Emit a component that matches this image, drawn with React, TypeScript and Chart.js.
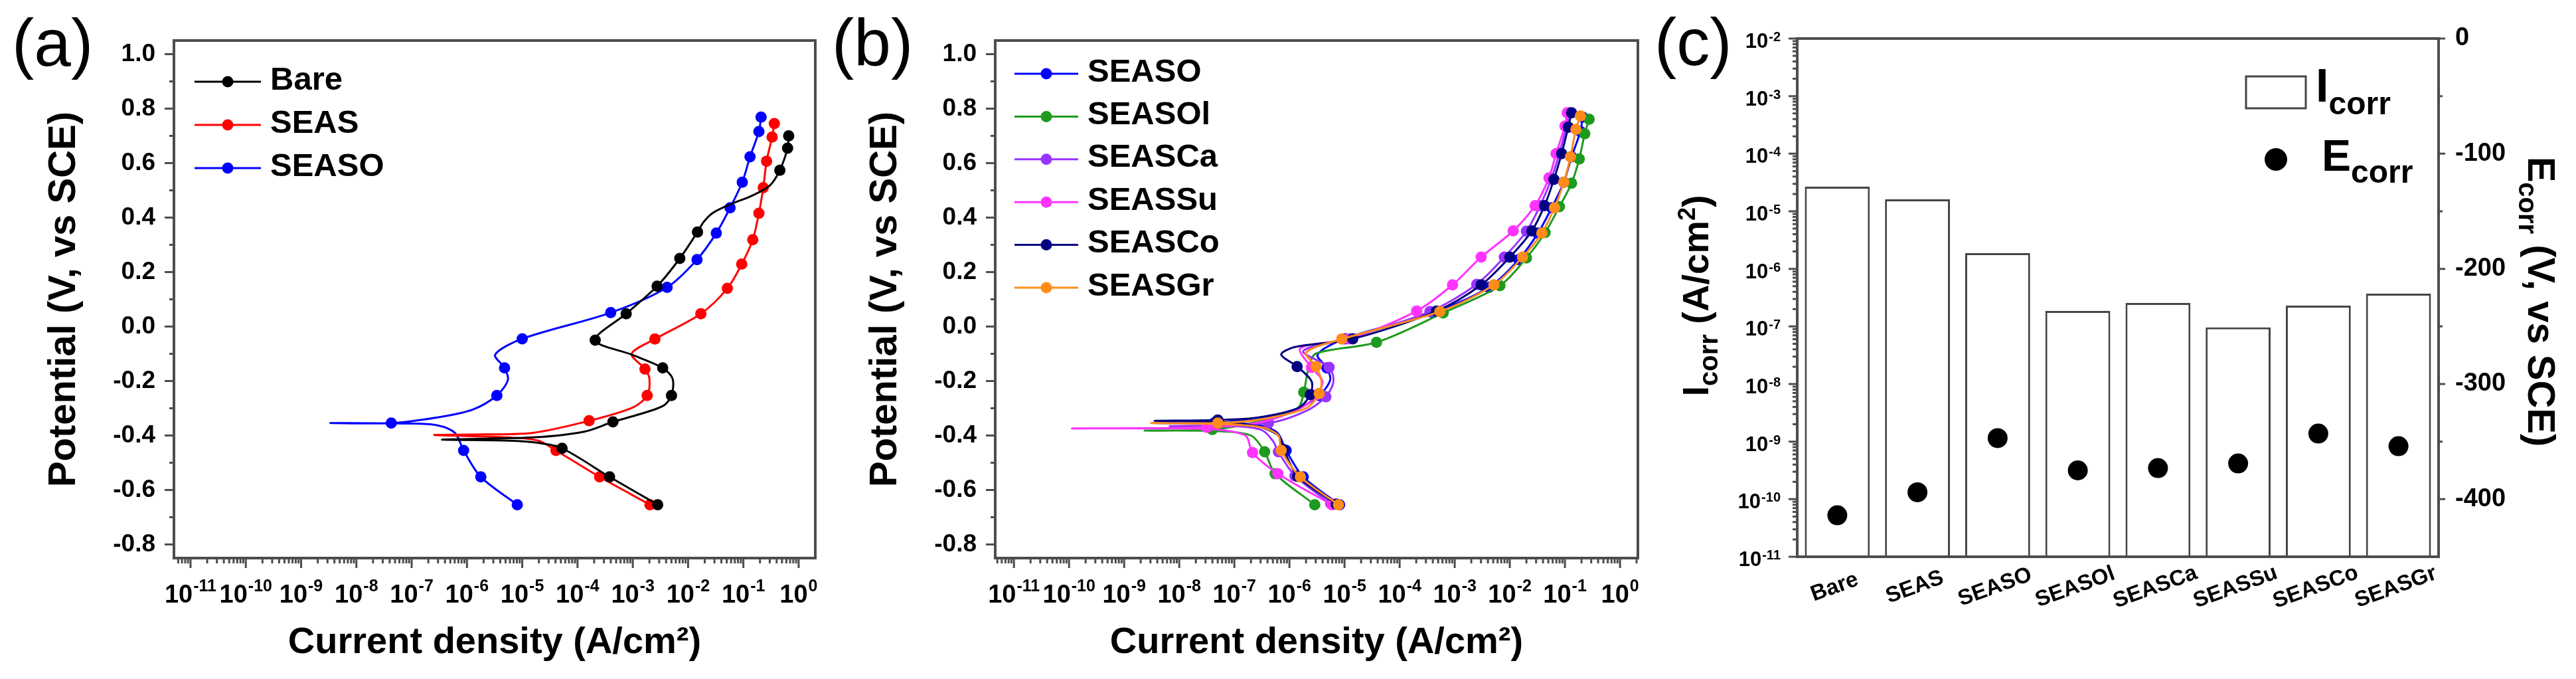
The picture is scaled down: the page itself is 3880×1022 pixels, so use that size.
import React, { useEffect, useRef } from 'react';
import { Chart, registerables } from 'chart.js';

Chart.register(...registerables);

const FONT = "'Liberation Sans', Arial, Helvetica, sans-serif";
const AXIS = '#4d4d4d';

// ---------------- Panel (a) data: current density (A/cm2) vs potential (V) ----------------
const bareI = [0.661, 0.631, 0.457, 0.302, 0.145, 0.0525, 0.0275, 0.0191, 0.0148, 0.00708, 0.00275, 7.59e-4, 2.09e-4, 9.55e-4, 3.47e-3, 5.25e-3, 5.01e-3, 3.63e-3, 1.32e-3, 4.37e-4, 1.32e-4, 1.58e-5, 3.55e-7, 5.5e-6, 1.95e-5, 5.25e-5, 3.8e-4, 2.82e-3];
const bareE = [0.700, 0.655, 0.574, 0.518, 0.481, 0.445, 0.416, 0.384, 0.347, 0.250, 0.148, 0.047, -0.050, -0.103, -0.152, -0.192, -0.253, -0.290, -0.322, -0.350, -0.386, -0.407, -0.415, -0.419, -0.427, -0.447, -0.552, -0.654];
const bareM = [1, 1, 1, 0, 0, 0, 0, 0, 1, 1, 1, 1, 1, 0, 1, 0, 1, 0, 0, 1, 0, 0, 0, 0, 0, 1, 1, 1];

const seasI = [0.363, 0.331, 0.263, 0.229, 0.191, 0.148, 0.0933, 0.0513, 0.0170, 2.51e-3, 9.55e-4, 1.66e-3, 2.0e-3, 1.82e-3, 1.0e-3, 1.62e-4, 1.58e-5, 1.9e-6, 2.57e-7, 5.5e-6, 1.95e-5, 4.07e-5, 2.51e-4, 2.04e-3];
const seasE = [0.745, 0.696, 0.607, 0.510, 0.416, 0.319, 0.229, 0.140, 0.047, -0.046, -0.100, -0.156, -0.192, -0.253, -0.297, -0.346, -0.390, -0.396, -0.398, -0.407, -0.419, -0.455, -0.552, -0.654];
const seasM = [1, 1, 1, 1, 1, 1, 1, 1, 1, 1, 0, 1, 0, 1, 0, 1, 0, 0, 0, 0, 0, 1, 1, 1];

const seasoI = [0.209, 0.191, 0.132, 0.0955, 0.0575, 0.0324, 0.0145, 4.17e-3, 3.98e-4, 1.0e-5, 3.24e-6, 4.79e-6, 5.5e-6, 3.47e-6, 1.26e-6, 2.82e-7, 4.27e-8, 3.39e-9, 7.94e-8, 2.82e-7, 6.03e-7, 8.71e-7, 1.78e-6, 8.13e-6];
const seasoE = [0.769, 0.716, 0.623, 0.530, 0.436, 0.343, 0.246, 0.144, 0.051, -0.045, -0.103, -0.152, -0.196, -0.253, -0.305, -0.334, -0.354, -0.354, -0.356, -0.362, -0.390, -0.455, -0.552, -0.654];
const seasoM = [1, 1, 1, 1, 1, 1, 1, 1, 1, 1, 0, 1, 0, 1, 0, 0, 1, 0, 0, 0, 0, 1, 1, 1];

// ---------------- Panel (b) data ----------------
const seasolI = [0.275, 0.229, 0.182, 0.132, 0.0794, 0.0437, 0.02, 6.61e-3, 6.17e-4, 3.8e-5, 3.02e-6, 2.24e-6, 1.82e-6, 1.41e-6, 2.51e-7, 3.98e-8, 2.34e-9, 5.01e-8, 2.0e-7, 3.55e-7, 5.5e-7, 2.88e-6];
const seasolE = [0.761, 0.708, 0.615, 0.526, 0.440, 0.345, 0.252, 0.150, 0.050, -0.058, -0.099, -0.150, -0.241, -0.300, -0.350, -0.378, -0.382, -0.384, -0.400, -0.460, -0.540, -0.654];
const seasolM = [1, 1, 1, 1, 1, 1, 1, 1, 1, 1, 0, 0, 1, 0, 0, 1, 0, 0, 0, 1, 1, 1];

const seascaI = [0.12, 0.107, 0.0794, 0.0562, 0.0355, 0.02, 7.94e-3, 2.51e-3, 3.55e-4, 1.12e-5, 1.78e-6, 5.25e-6, 6.31e-6, 4.57e-6, 2.0e-6, 4.17e-7, 6.76e-9, 1.0e-7, 3.16e-7, 5.01e-7, 6.31e-7, 1.26e-6, 5.62e-6];
const seascaE = [0.785, 0.735, 0.637, 0.540, 0.444, 0.350, 0.255, 0.155, 0.055, -0.045, -0.090, -0.150, -0.200, -0.258, -0.310, -0.354, -0.366, -0.366, -0.380, -0.420, -0.460, -0.548, -0.650];
const seascaM = [1, 1, 1, 1, 1, 1, 1, 1, 1, 1, 0, 1, 0, 1, 0, 1, 0, 0, 0, 0, 1, 1, 1];

const seassuI = [0.11, 0.1, 0.0692, 0.0513, 0.0288, 0.0115, 3.02e-3, 9.12e-4, 2.04e-4, 1.26e-5, 1.58e-6, 2.51e-6, 3.98e-6, 3.16e-6, 1.58e-6, 3.16e-7, 3.16e-8, 1.12e-10, 3.16e-8, 1.58e-7, 2.14e-7, 6.17e-7, 5.89e-6];
const seassuE = [0.785, 0.736, 0.635, 0.546, 0.444, 0.351, 0.255, 0.153, 0.057, -0.045, -0.080, -0.150, -0.200, -0.250, -0.300, -0.350, -0.370, -0.374, -0.376, -0.400, -0.463, -0.540, -0.654];
const seassuM = [1, 1, 1, 1, 1, 1, 1, 1, 1, 1, 0, 1, 0, 1, 0, 0, 1, 0, 0, 0, 1, 1, 1];

const seascoI = [0.132, 0.115, 0.0871, 0.0631, 0.0427, 0.0251, 0.0100, 3.02e-3, 4.68e-4, 1.41e-5, 1.26e-6, 7.08e-7, 1.38e-6, 2.51e-6, 2.4e-6, 1.41e-6, 2.51e-7, 5.01e-8, 3.55e-9, 5.01e-8, 2.51e-7, 6.31e-7, 7.94e-7, 1.41e-6, 7.08e-6];
const seascoE = [0.785, 0.732, 0.635, 0.540, 0.444, 0.351, 0.255, 0.153, 0.057, -0.045, -0.075, -0.103, -0.147, -0.200, -0.250, -0.300, -0.335, -0.343, -0.346, -0.350, -0.365, -0.400, -0.452, -0.550, -0.652];
const seascoM = [1, 1, 1, 1, 1, 1, 1, 1, 1, 1, 0, 0, 1, 0, 1, 0, 0, 1, 0, 0, 0, 0, 1, 1, 1];

const seasgrI = [0.191, 0.158, 0.126, 0.0955, 0.0646, 0.038, 0.017, 5.13e-3, 5.37e-4, 8.91e-6, 2.0e-6, 3.02e-6, 3.8e-6, 3.47e-6, 2.0e-6, 3.16e-7, 5.01e-8, 3.09e-9, 6.31e-8, 3.16e-7, 6.31e-7, 7.08e-7, 1.58e-6, 7.76e-6];
const seasgrE = [0.773, 0.724, 0.623, 0.530, 0.436, 0.343, 0.255, 0.153, 0.055, -0.046, -0.095, -0.147, -0.200, -0.246, -0.300, -0.340, -0.354, -0.354, -0.358, -0.370, -0.400, -0.455, -0.552, -0.654];
const seasgrM = [1, 1, 1, 1, 1, 1, 1, 1, 1, 1, 0, 1, 0, 1, 0, 0, 1, 0, 0, 0, 0, 1, 1, 1];

// ---------------- Panel (c) data ----------------
const categories = ['Bare', 'SEAS', 'SEASO', 'SEASOl', 'SEASCa', 'SEASSu', 'SEASCo', 'SEASGr'];
const icorr = [2.67e-5, 1.61e-5, 1.87e-6, 1.86e-7, 2.56e-7, 9.6e-8, 2.3e-7, 3.7e-7];
const ecorr = [-414, -394, -347, -375, -373, -369, -343, -354];

// ---------------- Tick labels ----------------
const currentDecades = [-11, -10, -9, -8, -7, -6, -5, -4, -3, -2, -1, 0];
const potentialMinor = [-0.7, -0.5, -0.3, -0.1, 0.1, 0.3, 0.5, 0.7, 0.9];
const potentialMajor = [-0.8, -0.6, -0.4, -0.2, 0.0, 0.2, 0.4, 0.6, 0.8, 1.0];
const icorrDecades = [-11, -10, -9, -8, -7, -6, -5, -4, -3, -2];
const ecorrMajor = [0, -100, -200, -300, -400];
const ecorrMinor = [-50, -150, -250, -350];

type Series = { name: string; color: string; I: number[]; E: number[]; M: number[] };

const panelA: Series[] = [
  { name: 'Bare', color: '#000000', I: bareI, E: bareE, M: bareM },
  { name: 'SEAS', color: '#ff0000', I: seasI, E: seasE, M: seasM },
  { name: 'SEASO', color: '#0000ff', I: seasoI, E: seasoE, M: seasoM },
];

const panelB: Series[] = [
  { name: 'SEASO', color: '#0000ff', I: seasoI, E: seasoE, M: seasoM },
  { name: 'SEASOl', color: '#1e9a1e', I: seasolI, E: seasolE, M: seasolM },
  { name: 'SEASCa', color: '#9933ff', I: seascaI, E: seascaE, M: seascaM },
  { name: 'SEASSu', color: '#ff33ff', I: seassuI, E: seassuE, M: seassuM },
  { name: 'SEASCo', color: '#000080', I: seascoI, E: seascoE, M: seascoM },
  { name: 'SEASGr', color: '#ff8c1a', I: seasgrI, E: seasgrE, M: seasgrM },
];

function pow10Label(ctx: CanvasRenderingContext2D, x: number, y: number, exp: number, baseSize: number, expSize: number, raise: number, align: 'center' | 'right') {
  const expText = exp < 0 ? '-' + Math.abs(exp) : String(exp);
  ctx.font = `bold ${baseSize}px ${FONT}`;
  const w1 = ctx.measureText('10').width;
  ctx.font = `bold ${expSize}px ${FONT}`;
  const w2 = ctx.measureText(expText).width;
  const gap = 1;
  const total = w1 + gap + w2;
  const x0 = align === 'center' ? x - total / 2 : x - total;
  ctx.textAlign = 'left';
  ctx.textBaseline = 'alphabetic';
  ctx.font = `bold ${baseSize}px ${FONT}`;
  ctx.fillText('10', x0, y);
  ctx.font = `bold ${expSize}px ${FONT}`;
  ctx.fillText(expText, x0 + w1 + gap, y - raise);
}

type Run = { t: string; size: number; dy?: number; weight?: string };
function drawRuns(ctx: CanvasRenderingContext2D, runs: Run[], x: number, y: number, rot: number, align: 'center' | 'left') {
  let total = 0;
  const widths = runs.map((r) => {
    ctx.font = `${r.weight ?? 'bold'} ${r.size}px ${FONT}`;
    const w = ctx.measureText(r.t).width;
    total += w;
    return w;
  });
  ctx.save();
  ctx.translate(x, y);
  ctx.rotate(rot);
  ctx.textAlign = 'left';
  ctx.textBaseline = 'alphabetic';
  let cx = align === 'center' ? -total / 2 : 0;
  runs.forEach((r, i) => {
    ctx.font = `${r.weight ?? 'bold'} ${r.size}px ${FONT}`;
    ctx.fillText(r.t, cx, r.dy ?? 0);
    cx += widths[i];
  });
  ctx.restore();
}

function curveDecor(label: string, labelX: number, series: Series[], legendTop: number, legendStep: number, lineX0: number, lineX1: number, textX: number) {
  return {
    id: 'curveDecor',
    afterDraw(chart: any) {
      const { ctx, chartArea: a, scales } = chart;
      const xs = scales.x;
      const ys = scales.y;
      ctx.save();
      ctx.strokeStyle = AXIS;
      ctx.lineWidth = 3;
      ctx.beginPath();
      currentDecades.forEach((e) => {
        const x = xs.getPixelForValue(Math.pow(10, e));
        ctx.moveTo(x, a.bottom);
        ctx.lineTo(x, a.bottom + 15);
      });
      for (let e = -12; e <= 0; e++) {
        for (let k = 2; k <= 9; k++) {
          const v = k * Math.pow(10, e);
          if (v <= xs.min || v >= xs.max) continue;
          const x = xs.getPixelForValue(v);
          ctx.moveTo(x, a.bottom);
          ctx.lineTo(x, a.bottom + 8);
        }
      }
      potentialMajor.forEach((v) => {
        const y = ys.getPixelForValue(v);
        ctx.moveTo(a.left - 14, y);
        ctx.lineTo(a.left, y);
      });
      potentialMinor.forEach((v) => {
        const y = ys.getPixelForValue(v);
        ctx.moveTo(a.left - 7, y);
        ctx.lineTo(a.left, y);
      });
      ctx.stroke();
      ctx.lineWidth = 4;
      ctx.strokeRect(a.left, a.top, a.right - a.left, a.bottom - a.top);

      ctx.fillStyle = '#000';
      currentDecades.forEach((e) => {
        pow10Label(ctx, xs.getPixelForValue(Math.pow(10, e)), a.bottom + 67, e, 38, 25, 17, 'center');
      });

      ctx.font = `100px ${FONT}`;
      ctx.textAlign = 'left';
      ctx.textBaseline = 'alphabetic';
      ctx.fillText(label, labelX, 99);

      series.forEach((s, i) => {
        const y = legendTop + i * legendStep;
        ctx.strokeStyle = s.color;
        ctx.lineWidth = 3;
        ctx.beginPath();
        ctx.moveTo(lineX0, y);
        ctx.lineTo(lineX1, y);
        ctx.stroke();
        ctx.fillStyle = s.color;
        ctx.beginPath();
        ctx.arc((lineX0 + lineX1) / 2, y, 8.5, 0, Math.PI * 2);
        ctx.fill();
        ctx.fillStyle = '#000';
        ctx.font = `bold 49px ${FONT}`;
        ctx.textBaseline = 'middle';
        ctx.fillText(s.name, textX, y - 2);
      });
      ctx.restore();
    },
  };
}

function curveConfig(series: Series[], xmin: number, xmax: number, yAxisWidth: number, rightPad: number, titlePad: number, plugin: any) {
  const n = series.length;
  return {
    type: 'scatter',
    data: {
      datasets: series.map((s, i) => ({
        label: s.name,
        data: s.I.map((v, k) => ({ x: v, y: s.E[k] })),
        showLine: true,
        borderColor: s.color,
        backgroundColor: s.color,
        borderWidth: 3,
        tension: 0.3,
        pointRadius: (c: any) => (s.M[c.dataIndex] ? 8.5 : 0),
        pointHoverRadius: 0,
        pointBorderWidth: 0,
        pointBackgroundColor: s.color,
        order: n > 3 ? n - 1 - i : i,
      })),
    },
    options: {
      responsive: false,
      animation: false,
      devicePixelRatio: 1,
      events: [],
      layout: { padding: { left: 0, right: rightPad, top: 61, bottom: 0 } },
      plugins: { legend: { display: false }, tooltip: { enabled: false } },
      scales: {
        x: {
          type: 'logarithmic',
          position: 'bottom',
          min: xmin,
          max: xmax,
          grid: { display: false, drawTicks: false },
          border: { display: false },
          ticks: { display: false },
          title: {
            display: true,
            text: 'Current density (A/cm²)',
            color: '#000',
            font: { family: FONT, size: 56, weight: 'bold' },
            padding: { top: 0, bottom: 21 },
          },
          afterFit: (s: any) => {
            s.height = 182;
          },
        },
        y: {
          type: 'linear',
          position: 'left',
          min: -0.85,
          max: 1.05,
          grid: { display: false, drawTicks: false },
          border: { display: false },
          ticks: {
            stepSize: 0.2,
            includeBounds: false,
            padding: 28,
            color: '#000',
            font: { family: FONT, size: 37, weight: 'bold' },
            callback: (v: any) => Number(v).toFixed(1),
          },
          title: {
            display: true,
            text: 'Potential (V, vs SCE)',
            color: '#000',
            font: { family: FONT, size: 58, weight: 'bold' },
            padding: { top: titlePad, bottom: 0 },
          },
          afterFit: (s: any) => {
            s.width = yAxisWidth;
          },
        },
      },
    },
    plugins: [plugin],
  };
}

const barDecor = {
  id: 'barDecor',
  afterDraw(chart: any) {
    const { ctx, chartArea: a, scales } = chart;
    const ys = scales.y;
    const y2 = scales.y2;
    const xs = scales.x;
    ctx.save();
    ctx.strokeStyle = AXIS;
    ctx.lineWidth = 3;
    ctx.beginPath();
    icorrDecades.forEach((e) => {
      const y = ys.getPixelForValue(Math.pow(10, e));
      ctx.moveTo(a.left - 13, y);
      ctx.lineTo(a.left, y);
    });
    for (let e = -11; e < -2; e++) {
      for (let k = 2; k <= 9; k++) {
        const y = ys.getPixelForValue(k * Math.pow(10, e));
        ctx.moveTo(a.left - 7, y);
        ctx.lineTo(a.left, y);
      }
    }
    ecorrMajor.forEach((v) => {
      const y = y2.getPixelForValue(v);
      ctx.moveTo(a.right, y);
      ctx.lineTo(a.right + 10, y);
    });
    ecorrMinor.forEach((v) => {
      const y = y2.getPixelForValue(v);
      ctx.moveTo(a.right, y);
      ctx.lineTo(a.right + 6, y);
    });
    ctx.stroke();
    ctx.lineWidth = 4;
    ctx.strokeRect(a.left, a.top, a.right - a.left, a.bottom - a.top);

    ctx.fillStyle = '#000';
    icorrDecades.forEach((e) => {
      const y = ys.getPixelForValue(Math.pow(10, e));
      pow10Label(ctx, a.left - 25, y + 14, e, 31, 20, 10, 'right');
    });

    // category labels
    categories.forEach((c, i) => {
      const x = xs.getPixelForValue(i) - 4;
      ctx.save();
      ctx.translate(x, 884);
      ctx.rotate((-20 * Math.PI) / 180);
      ctx.font = `bold 33px ${FONT}`;
      ctx.textAlign = 'center';
      ctx.textBaseline = 'middle';
      ctx.fillText(c, 0, 0);
      ctx.restore();
    });

    // axis titles
    drawRuns(
      ctx,
      [
        { t: 'I', size: 56 },
        { t: 'corr', size: 40, dy: 14 },
        { t: ' (A/cm', size: 56 },
        { t: '2', size: 36, dy: -20 },
        { t: ')', size: 56 },
      ],
      93,
      445,
      -Math.PI / 2,
      'center'
    );
    drawRuns(
      ctx,
      [
        { t: 'E', size: 58 },
        { t: 'corr', size: 40, dy: 14 },
        { t: ' (V, vs SCE)', size: 58 },
      ],
      1328,
      454,
      Math.PI / 2,
      'center'
    );

    // panel label
    ctx.font = `100px ${FONT}`;
    ctx.textAlign = 'left';
    ctx.textBaseline = 'alphabetic';
    ctx.fillText('(c)', 12, 98);

    // legend
    ctx.strokeStyle = '#444';
    ctx.lineWidth = 3;
    ctx.strokeRect(903, 115, 90, 48);
    drawRuns(ctx, [{ t: 'I', size: 70 }, { t: 'corr', size: 48, dy: 19 }], 1008, 153, 0, 'left');
    ctx.beginPath();
    ctx.arc(948, 240, 17, 0, Math.PI * 2);
    ctx.fill();
    drawRuns(ctx, [{ t: 'E', size: 66 }, { t: 'corr', size: 48, dy: 18 }], 1017, 257, 0, 'left');
    ctx.restore();
  },
};

function barConfig() {
  return {
    type: 'bar',
    data: {
      labels: categories,
      datasets: [
        {
          type: 'line',
          label: 'Ecorr',
          data: ecorr,
          yAxisID: 'y2',
          showLine: false,
          pointRadius: 15,
          pointHoverRadius: 0,
          pointBorderWidth: 0,
          pointBackgroundColor: '#000',
          borderColor: '#000',
          order: 0,
        },
        {
          type: 'bar',
          label: 'Icorr',
          data: icorr,
          yAxisID: 'y',
          backgroundColor: '#ffffff',
          borderColor: '#444',
          borderWidth: 3,
          categoryPercentage: 0.9,
          barPercentage: 0.9,
          order: 1,
        },
      ],
    },
    options: {
      responsive: false,
      animation: false,
      devicePixelRatio: 1,
      events: [],
      layout: { padding: { left: 0, right: 0, top: 58, bottom: 0 } },
      plugins: { legend: { display: false }, tooltip: { enabled: false } },
      scales: {
        x: {
          type: 'category',
          offset: true,
          grid: { display: false, drawTicks: false },
          border: { display: false },
          ticks: { display: false },
          afterFit: (s: any) => {
            s.height = 184;
          },
        },
        y: {
          type: 'logarithmic',
          position: 'left',
          min: 1e-11,
          max: 1e-2,
          grid: { display: false, drawTicks: false },
          border: { display: false },
          ticks: { display: false },
          afterFit: (s: any) => {
            s.width = 227;
          },
        },
        y2: {
          type: 'linear',
          position: 'right',
          min: -450,
          max: 0,
          grid: { display: false, drawTicks: false },
          border: { display: false },
          ticks: {
            stepSize: 100,
            includeBounds: false,
            padding: 25,
            color: '#000',
            font: { family: FONT, size: 38, weight: 'bold' },
          },
          afterFit: (s: any) => {
            s.width = 207;
          },
        },
      },
    },
    plugins: [barDecor],
  };
}

export default function App() {
  const refA = useRef<HTMLCanvasElement>(null);
  const refB = useRef<HTMLCanvasElement>(null);
  const refC = useRef<HTMLCanvasElement>(null);

  useEffect(() => {
    const charts: Chart[] = [];
    if (refA.current) {
      const plug = curveDecor('(a)', 18, panelA, 123, 65, 293, 393, 407);
      charts.push(new Chart(refA.current, curveConfig(panelA, 5.01e-12, 2.0, 262, 12, 62, plug) as any));
    }
    if (refB.current) {
      const plug = curveDecor('(b)', 13, panelB, 111, 64.4, 288, 384, 398);
      charts.push(new Chart(refB.current, curveConfig(panelB, 4.57e-12, 2.11, 259, 13, 59, plug) as any));
    }
    if (refC.current) {
      charts.push(new Chart(refC.current, barConfig() as any));
    }
    return () => {
      charts.forEach((c) => c.destroy());
    };
  }, []);

  return (
    <div style={{ position: 'absolute', left: 0, top: 0, width: 3880, height: 1022, background: '#ffffff', overflow: 'hidden' }}>
      <canvas ref={refA} width={1240} height={1022} style={{ position: 'absolute', left: 0, top: 0 }} />
      <canvas ref={refB} width={1240} height={1022} style={{ position: 'absolute', left: 1240, top: 0 }} />
      <canvas ref={refC} width={1400} height={1022} style={{ position: 'absolute', left: 2480, top: 0 }} />
    </div>
  );
}
